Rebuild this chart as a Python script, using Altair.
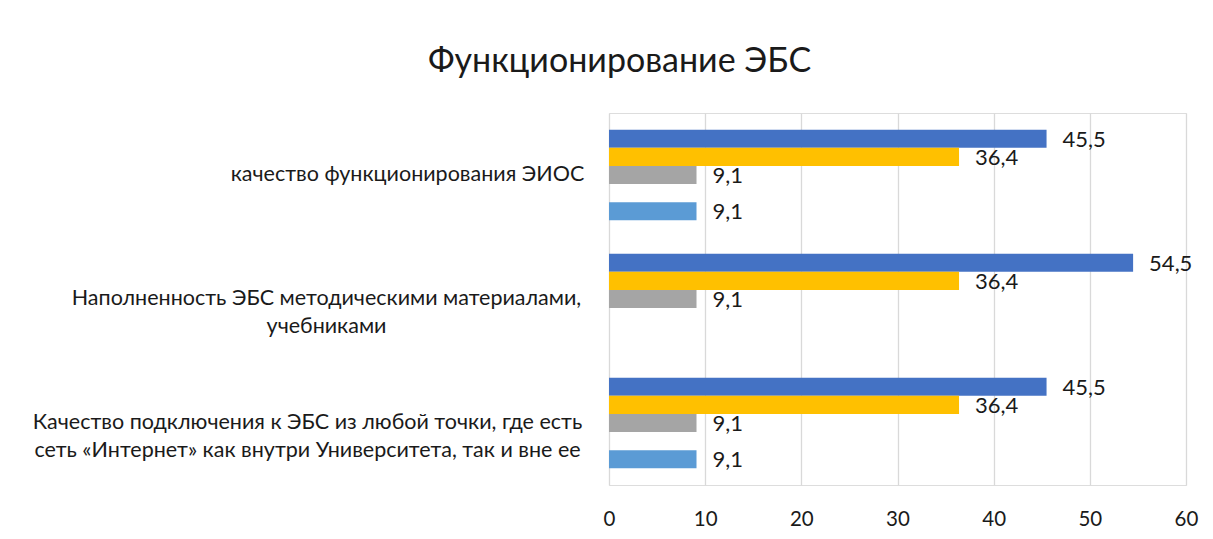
import altair as alt
import pandas as pd

categories = [
    "качество функционирования ЭИОС",
    "Наполненность ЭБС методическими материалами,\nучебниками",
    "Качество подключения к ЭБС из любой точки, где есть\nсеть «Интернет» как внутри Университета, так и вне ее",
]
series = ["Ряд1", "Ряд2", "Ряд3", "Ряд4", "Ряд5"]
colors = ["#4472C4", "#FFC000", "#A5A5A5", "#ED7D31", "#5B9BD5"]

values = {
    "Ряд1": [45.5, 54.5, 45.5],
    "Ряд2": [36.4, 36.4, 36.4],
    "Ряд3": [9.1, 9.1, 9.1],
    "Ряд4": [None, None, None],
    "Ряд5": [9.1, None, 9.1],
}

rows = []
for s in series:
    for c, v in zip(categories, values[s]):
        if v is None:
            continue
        rows.append({"cat": c, "series": s, "value": v,
                     "label": f"{v:.1f}".replace(".", ",")})
df = pd.DataFrame(rows)

FONT = "Lato"
TXT = "#1a1a1a"

# centre each wrapped label block, right edge ~25px left of the axis
label_pad = {
    "condition": [
        {"test": "indexof(datum.value, 'ЭИОС') >= 0", "value": 202},
        {"test": "indexof(datum.value, 'учебниками') >= 0", "value": 283},
    ],
    "value": 302,
}

y = alt.Y("cat:N", sort=categories, title=None,
          scale=alt.Scale(paddingInner=0.27, paddingOuter=0.135),
          axis=alt.Axis(domain=False, ticks=False, labelPadding=label_pad,
                        labelAlign="center",
                        labelFont=FONT, labelFontSize=21.5, labelColor=TXT,
                        labelLimit=800, labelLineHeight=28,
                        labelExpr="split(datum.label, '\\n')"))
yo = alt.YOffset("series:N", sort=series,
                 scale=alt.Scale(domain=series, paddingInner=0.0, paddingOuter=0))
x = alt.X("value:Q", title=None,
          scale=alt.Scale(domain=[0, 60], nice=False),
          axis=alt.Axis(values=[0, 10, 20, 30, 40, 50, 60], domain=False, ticks=False,
                        labelFlush=False,
                        gridColor="#D9D9D9", gridWidth=1.3, labelPadding=24,
                        labelFont=FONT, labelFontSize=20.5, labelColor=TXT))

bars = alt.Chart(df).mark_bar().encode(
    y=y, yOffset=yo, x=x,
    color=alt.Color("series:N", scale=alt.Scale(domain=series, range=colors), legend=None),
)
text = alt.Chart(df).mark_text(align="left", baseline="middle", dx=16, dy=1,
                               font=FONT, fontSize=22, color=TXT).encode(
    y=alt.Y("cat:N", sort=categories), yOffset=yo, x="value:Q", text="label:N"
)

chart = alt.layer(bars, text).properties(
    width=577, height=372,
    title=alt.TitleParams("Функционирование ЭБС", font=FONT, fontSize=34,
                          fontWeight="normal", color=TXT, anchor="middle",
                          dx=-278, offset=34),
    autosize=alt.AutoSizeParams(type="none"),
    padding={"left": 601, "top": 105, "right": 19, "bottom": 44},
).configure_view(stroke=None).configure(background="white")

chart.save("out.html", embed_options={"renderer": "svg", "actions": False})
